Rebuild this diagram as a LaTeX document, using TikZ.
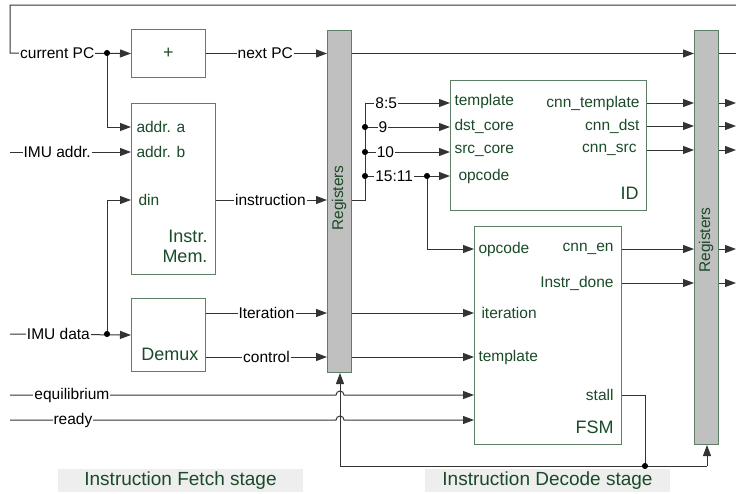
\documentclass[tikz,border=0pt]{standalone}
\usepackage{fontspec}
\setmainfont{Liberation Sans}
\usetikzlibrary{calc}
\usetikzlibrary{arrows.meta}
\usepackage{xcolor}
\definecolor{boxc}{HTML}{5E7F66}
\definecolor{txtc}{HTML}{1A4A28}
\definecolor{wirec}{HTML}{333333}
\definecolor{regc}{HTML}{C0C0C0}
\definecolor{stagec}{HTML}{EEEEEE}
\newcommand{\lbl}{\fontsize{15.5}{17}\selectfont}
\newcommand{\blbl}{\fontsize{18}{20}\selectfont}
\newcommand{\slbl}{\fontsize{19}{21}\selectfont}

\begin{document}
\begin{tikzpicture}[x=1pt, y=-1pt, line width=1pt,
        blk/.style={draw=boxc,line width=1pt,inner sep=0pt,anchor=north west},
        regs/.style={blk,fill=regc},
        port/.style={text=txtc,font=\lbl,inner sep=1pt},
        bname/.style={text=txtc,font=\blbl,inner sep=0pt},
        sig/.style={font=\lbl,fill=white,inner sep=1pt},
        stage/.style={fill=stagec,text=txtc,font=\slbl,minimum width=245pt,minimum height=23pt,inner sep=0pt},
        wire/.style={draw=wirec},
        arr/.style={wire,-{Triangle[length=11pt,width=8pt]}},
        jn/.style={fill=black}]
      \useasboundingbox (0,0) rectangle (736,493);
      \def\jr{4}   % radius of the wire crossing hump
      % blocks
      \node[blk,minimum width=74pt,minimum height=48pt]   (plus)  at (131,29)  {};
      \node[blk,minimum width=84pt,minimum height=171pt]  (imem)  at (131,103) {};
      \node[blk,minimum width=74pt,minimum height=73pt]   (demux) at (131,298) {};
      \node[regs,minimum width=24pt,minimum height=342pt] (reg1)  at (327,30)  {};
      \node[blk,minimum width=196pt,minimum height=130pt] (id)    at (450,80)  {};
      \node[blk,minimum width=147pt,minimum height=218pt] (fsm)   at (474,226) {};
      \node[regs,minimum width=24pt,minimum height=414pt] (reg2)  at (694,30)  {};
      \node[bname] at (plus.center) {+};
      \node[bname,align=right,anchor=east] at (208,246) {Instr.\\Mem.};
      \node[bname,anchor=east] at (199,354) {Demux};
      \node[bname,anchor=east] at (639,193) {ID};
      \node[bname,anchor=east] at (614,427) {FSM};
      \node[port,rotate=90] at (339,198) {Registers};
      \node[port,rotate=90] at (706,240) {Registers};
      % ports
      \node[port,anchor=west] (pa)   at (135,127) {addr. a};
      \node[port,anchor=west] (pb)   at (135,152) {addr. b};
      \node[port,anchor=west] (pdin) at (137,200) {din};
      \node[port,anchor=west] (itp)  at (453,101) {template};
      \node[port,anchor=west] (idc)  at (453,126) {dst\_core};
      \node[port,anchor=west] (isc)  at (453,151) {src\_core};
      \node[port,anchor=west] (iop)  at (457,176) {opcode};
      \node[port,anchor=east] (otp)  at (641,103) {cnn\_template};
      \node[port,anchor=east] (odc)  at (641,126) {cnn\_dst};
      \node[port,anchor=east] (osc)  at (638,150) {cnn\_src};
      \node[port,anchor=west] (fop)  at (477,249) {opcode};
      \node[port,anchor=east] (fen)  at (615,249) {cnn\_en};
      \node[port,anchor=east] (fdn)  at (615,283) {Instr\_done};
      \node[port,anchor=west] (fit)  at (480,313) {iteration};
      \node[port,anchor=west] (ftp)  at (477,357) {template};
      \node[port,anchor=east] (fst)  at (615,395) {stall};
      % free ends and junctions
      \coordinate (fbR) at (736,5);
      \coordinate (pcL) at (10,53);
      \coordinate (pcJ) at (107,53);
      \coordinate (iaL) at (10,152);
      \coordinate (dtL) at (10,334);
      \coordinate (dtJ) at (107,334);
      \coordinate (eqL) at (10,395);
      \coordinate (rdL) at (10,420);
      \coordinate (busB) at (365,200);
      \coordinate (busT) at (365,103);
      \coordinate (b9)  at (365,127);
      \coordinate (b10) at (365,152);
      \coordinate (b15) at (365,176);
      \coordinate (opJ) at (427,176);
      \coordinate (stJ) at (645,466);
      \coordinate (bL)  at (340,466);
      \coordinate (bR)  at (707,466);
      % fetch stage
      \draw[arr] (fbR) -| (pcL) -- node[sig,pos=.39] {current PC} (plus.west);
      \draw[arr] (pcJ) |- (imem.west |- pa);
      \draw[arr] (iaL) -- node[sig,pos=.39] {IMU addr.} (imem.west |- pb);
      \draw[arr] (dtL) -- node[sig,pos=.4] {IMU data} (demux.west);
      \draw[arr] (dtJ) |- (imem.west |- pdin);
      \draw[arr] (plus.east) -- node[sig,pos=.49] {next PC} (reg1.west |- plus.east);
      \draw[arr] (imem.east |- pdin) -- node[sig,pos=.49] {instruction} (reg1.west |- pdin);
      \draw[arr] (demux.east |- fit) -- node[sig,pos=.5] {Iteration} (reg1.west |- fit);
      \draw[arr] (demux.east |- ftp) -- node[sig,pos=.5] {control} (reg1.west |- ftp);
      \filldraw[jn] (pcJ) circle(2.5) (dtJ) circle(2.5);
      % decode stage
      \draw[arr] (reg1.east |- plus.east) -- (reg2.west |- plus.east);
      \draw[wire] (reg2.east |- plus.east) -- (fbR |- plus.east);
      \draw[wire] (reg1.east |- busB) -- (busB) -- (busT);
      \draw[arr] (busT) -- node[sig,pos=.25] {8:5} (id.west |- busT);
      \draw[arr] (b9) -- node[sig,pos=.21] {9} (id.west |- b9);
      \draw[arr] (b10) -- node[sig,pos=.24] {10} (id.west |- b10);
      \draw[wire] (b15) -- node[sig,pos=.47] {15:11} (opJ);
      \draw[arr] (opJ) -- (id.west |- opJ);
      \draw[arr] (opJ) |- (fsm.west |- fop);
      \filldraw[jn] (b9) circle(2.5) (b10) circle(2.5) (b15) circle(2.5) (opJ) circle(2.5);
      \draw[arr] (reg1.east |- fit) -- (fsm.west |- fit);
      \draw[arr] (reg1.east |- ftp) -- (fsm.west |- ftp);
      \draw[arr] (eqL) -- node[sig,pos=.19] {equilibrium} ($(bL |- eqL)+(-\jr,0)$)
        arc[start angle=180,end angle=360,radius=\jr] -- (fsm.west |- eqL);
      \draw[arr] (rdL) -- node[sig,pos=.193] {ready} ($(bL |- rdL)+(-\jr,0)$)
        arc[start angle=180,end angle=360,radius=\jr] -- (fsm.west |- rdL);
      \foreach \p in {otp,odc,osc} {
        \draw[arr] (id.east |- \p) -- (reg2.west |- \p);
        \draw[arr] (reg2.east |- \p) -- (fbR |- \p);
      }
      \foreach \p in {fen,fdn} {
        \draw[arr] (fsm.east |- \p) -- (reg2.west |- \p);
        \draw[arr] (reg2.east |- \p) -- (fbR |- \p);
      }
      % stall feeds both register banks
      \draw[wire] (fsm.east |- fst) -| (stJ);
      \draw[arr] (bL) -- (bL |- reg1.south);
      \draw[wire] (bL) -- (bR);
      \draw[arr] (bR) -- (bR |- reg2.south);
      \filldraw[jn] (stJ) circle(2.5);
      % stage captions
      \node[stage] at (180.5,480.5) {Instruction Fetch stage};
      \node[stage] at (547.5,480.5) {Instruction Decode stage};
\end{tikzpicture}
\end{document}
